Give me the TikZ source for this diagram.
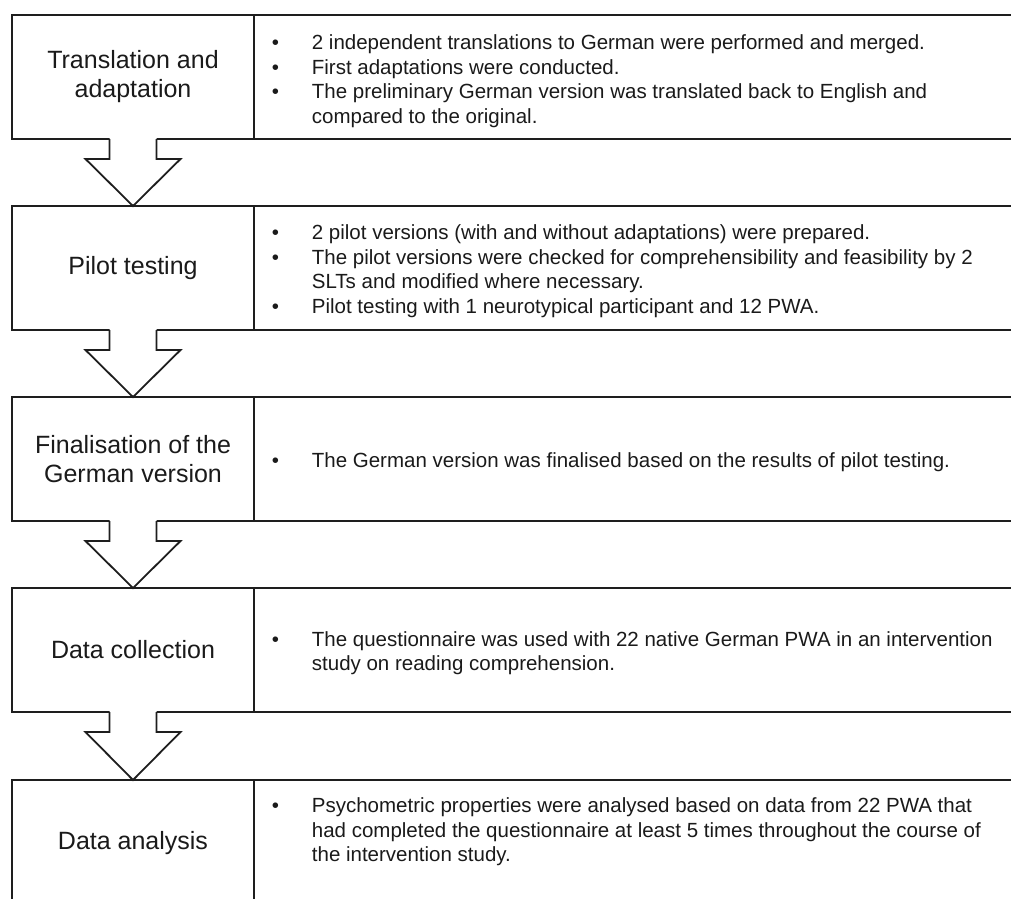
\documentclass[tikz,border=0pt]{standalone}
\usepackage{fontspec}
\setmainfont{Liberation Sans}
\usetikzlibrary{calc}
\definecolor{linecol}{HTML}{1E1E1E}
\definecolor{txtcol}{HTML}{1A1A1A}
\newcommand{\bul}{\makebox[40pt][l]{\textbullet}}
\newcommand{\ind}{\hspace*{40pt}}
\newcommand{\flowarrow}[2]{%
  \fill[white] ($(#1.south)+(-23.5,-1.5)$) -- ($(#1.south)+(-23.5,20)$) -- ($(#1.south)+(-47.5,20)$) -- (#2.north) -- ($(#1.south)+(47.5,20)$) -- ($(#1.south)+(23.5,20)$) -- ($(#1.south)+(23.5,-1.5)$) -- cycle;
  \draw[line join=miter] ($(#1.south)+(-23.5,0)$) -- ($(#1.south)+(-23.5,20)$) -- ($(#1.south)+(-47.5,20)$) -- (#2.north) -- ($(#1.south)+(47.5,20)$) -- ($(#1.south)+(23.5,20)$) -- ($(#1.south)+(23.5,0)$);}
\begin{document}
\begin{tikzpicture}[x=1pt,y=-1pt,line width=1.8pt,draw=linecol,
  leftbox/.style={draw=linecol,minimum width=242pt,minimum height=124pt,inner sep=0pt,outer sep=0pt},
  rightbox/.style={draw=linecol,minimum width=790pt,minimum height=124pt,inner sep=0pt,outer sep=0pt},
  lbl/.style={align=center,inner sep=0pt,text=txtcol,font=\fontsize{25}{29}\selectfont},
  btxt/.style={align=left,inner sep=0pt,anchor=west,text=txtcol,font=\fontsize{20.5}{24.5}\selectfont}]
\useasboundingbox (0,0) rectangle (1011,898);
\clip (0,0) rectangle (1011,898);
% stage boxes
\node[leftbox] (L1) at (133,77) {};
\node[leftbox] (L2) at (133,268) {};
\node[leftbox] (L3) at (133,459) {};
\node[leftbox] (L4) at (133,650) {};
\node[leftbox,minimum height=160pt] (L5) at (133,860) {};
\node[rightbox,anchor=west] (R1) at (L1.east) {};
\node[rightbox,anchor=west] (R2) at (L2.east) {};
\node[rightbox,anchor=west] (R3) at (L3.east) {};
\node[rightbox,anchor=west] (R4) at (L4.east) {};
\node[rightbox,anchor=west,minimum height=160pt] (R5) at (L5.east) {};
% labels
\node[lbl] (n1) at (133,77) {Translation and\\adaptation};
\node[lbl] (n2) at (133,268) {Pilot testing};
\node[lbl] (n3) at (133,459) {Finalisation of the\\German version};
\node[lbl] (n4) at (133,650) {Data collection};
\node[lbl] (n5) at (133,843) {Data analysis};
% bullet texts
\node[btxt] (t1) at (271,81) {\bul 2 independent translations to German were performed and merged.\\
\bul First adaptations were conducted.\\
\bul The preliminary German version was translated back to English and\\
\ind compared to the original.};
\node[btxt] (t2) at (271,271) {\bul 2 pilot versions (with and without adaptations) were prepared.\\
\bul The pilot versions were checked for comprehensibility and feasibility by 2\\
\ind SLTs and modified where necessary.\\
\bul Pilot testing with 1 neurotypical participant and 12 PWA.};
\node[btxt] (t3) at (271,462) {\bul The German version was finalised based on the results of pilot testing.};
\node[btxt] (t4) at (271,653) {\bul The questionnaire was used with 22 native German PWA in an intervention\\
\ind study on reading comprehension.};
\node[btxt] (t5) at (271,832) {\bul Psychometric properties were analysed based on data from 22 PWA that\\
\ind had completed the questionnaire at least 5 times throughout the course of\\
\ind the intervention study.};
% arrows
\flowarrow{L1}{L2}
\flowarrow{L2}{L3}
\flowarrow{L3}{L4}
\flowarrow{L4}{L5}
\end{tikzpicture}
\end{document}
